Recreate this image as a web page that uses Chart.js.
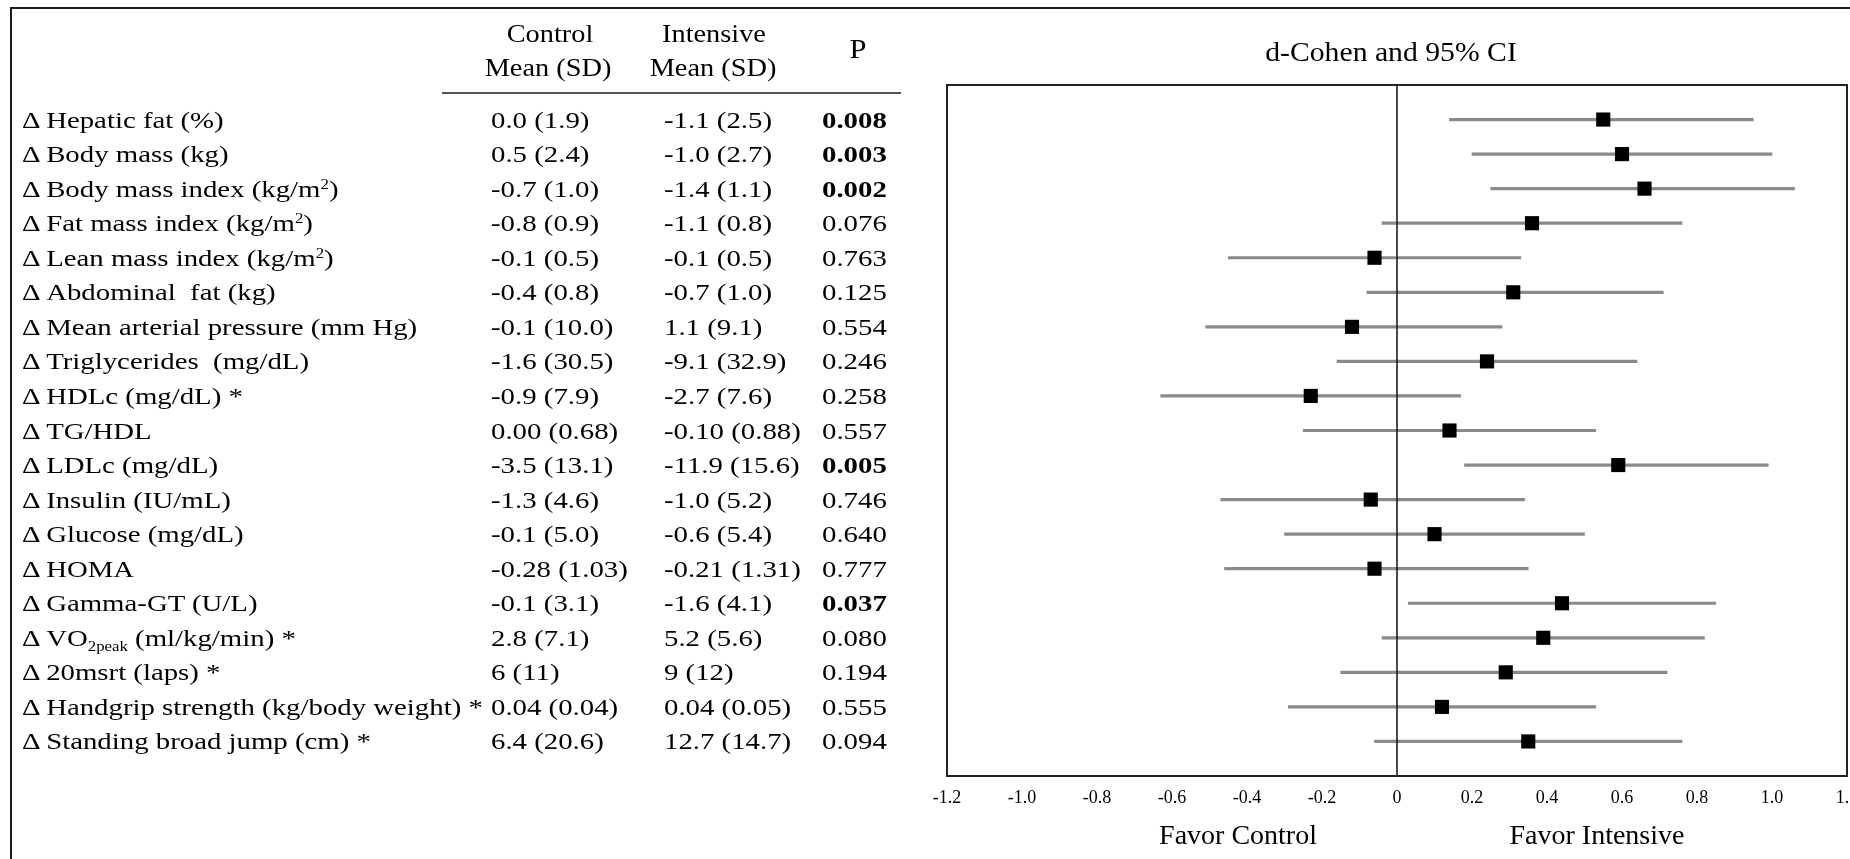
<!DOCTYPE html>
<html>
<head>
<meta charset="utf-8">
<script src="https://cdn.jsdelivr.net/npm/chart.js@4.4.1/dist/chart.umd.min.js"></script>
<style>
  html, body { margin: 0; padding: 0; background: #fff; overflow: hidden; }
  body { width: 1850px; height: 859px; position: relative; font-family: 'Liberation Serif', 'Times New Roman', serif; color: #000; }
  #frame { position: absolute; left: 10px; top: 7px; width: 1900px; height: 900px; border-left: 2.5px solid #1a1a1a; border-top: 2.5px solid #1a1a1a; }
  #chart { position: absolute; left: 0; top: 0; }
  .t { position: absolute; white-space: nowrap; }
  .row { font-size: 24px; height: 34px; line-height: 34px; transform: scaleX(1.2); transform-origin: 0 50%; }
  .row sup { font-size: 14px; vertical-align: 8px; line-height: 0; }
  .row sub { font-size: 14px; vertical-align: -5px; line-height: 0; }
  .head { font-size: 26px; line-height: 26px; transform: translateX(-50%) scaleX(1.09); }
  .big { font-size: 28px; line-height: 28px; transform: translateX(-50%); }
  .title { font-size: 27px; line-height: 27px; transform: translateX(-50%) scaleX(1.1); }
  #rule { position: absolute; left: 442px; top: 92px; width: 459px; height: 2px; background: #555; }
</style>
</head>
<body>
<div id="frame"></div>
<canvas id="chart" width="1900" height="859"></canvas>
<div id="rule"></div>
<div class="t head" style="left:550px; top:21px;">Control</div>
<div class="t head" style="left:548px; top:55px;">Mean (SD)</div>
<div class="t head" style="left:714px; top:21px;">Intensive</div>
<div class="t head" style="left:713px; top:55px;">Mean (SD)</div>
<div class="t head" style="left:858px; top:35px; font-size:28px; line-height:28px;">P</div>
<div class="t title" style="left:1391px; top:39px;">d-Cohen and 95% CI</div>
<div class="t big" style="left:1238px; top:821px;">Favor Control</div>
<div class="t big" style="left:1597px; top:821px;">Favor Intensive</div>
<script>
// rows of the table / forest plot
const rowLabels = [
  'Δ Hepatic fat (%)',
  'Δ Body mass (kg)',
  'Δ Body mass index (kg/m<sup>2</sup>)',
  'Δ Fat mass index (kg/m<sup>2</sup>)',
  'Δ Lean mass index (kg/m<sup>2</sup>)',
  'Δ Abdominal&nbsp; fat (kg)',
  'Δ Mean arterial pressure (mm Hg)',
  'Δ Triglycerides&nbsp; (mg/dL)',
  'Δ HDLc (mg/dL) *',
  'Δ TG/HDL',
  'Δ LDLc (mg/dL)',
  'Δ Insulin (IU/mL)',
  'Δ Glucose (mg/dL)',
  'Δ HOMA',
  'Δ Gamma-GT (U/L)',
  'Δ VO<sub>2peak</sub> (ml/kg/min) *',
  'Δ 20msrt (laps) *',
  'Δ Handgrip strength (kg/body weight) *',
  'Δ Standing broad jump (cm) *'
];
const controlMeanSD = ['0.0 (1.9)', '0.5 (2.4)', '-0.7 (1.0)', '-0.8 (0.9)', '-0.1 (0.5)', '-0.4 (0.8)', '-0.1 (10.0)',
  '-1.6 (30.5)', '-0.9 (7.9)', '0.00 (0.68)', '-3.5 (13.1)', '-1.3 (4.6)', '-0.1 (5.0)', '-0.28 (1.03)', '-0.1 (3.1)',
  '2.8 (7.1)', '6 (11)', '0.04 (0.04)', '6.4 (20.6)'];
const intensiveMeanSD = ['-1.1 (2.5)', '-1.0 (2.7)', '-1.4 (1.1)', '-1.1 (0.8)', '-0.1 (0.5)', '-0.7 (1.0)', '1.1 (9.1)',
  '-9.1 (32.9)', '-2.7 (7.6)', '-0.10 (0.88)', '-11.9 (15.6)', '-1.0 (5.2)', '-0.6 (5.4)', '-0.21 (1.31)', '-1.6 (4.1)',
  '5.2 (5.6)', '9 (12)', '0.04 (0.05)', '12.7 (14.7)'];
const pValues = ['0.008', '0.003', '0.002', '0.076', '0.763', '0.125', '0.554', '0.246', '0.258', '0.557',
  '0.005', '0.746', '0.640', '0.777', '0.037', '0.080', '0.194', '0.555', '0.094'];

// Cohen's d and 95% CI
const cohenD  = [0.55, 0.60, 0.66, 0.36, -0.06, 0.31, -0.12, 0.24, -0.23, 0.14, 0.59, -0.07, 0.10, -0.06, 0.44, 0.39, 0.29, 0.12, 0.35];
const ciLower = [0.14, 0.20, 0.25, -0.04, -0.45, -0.08, -0.51, -0.16, -0.63, -0.25, 0.18, -0.47, -0.30, -0.46, 0.03, -0.04, -0.15, -0.29, -0.06];
const ciUpper = [0.95, 1.00, 1.06, 0.76, 0.33, 0.71, 0.28, 0.64, 0.17, 0.53, 0.99, 0.34, 0.50, 0.35, 0.85, 0.82, 0.72, 0.53, 0.76];

// x axis ticks
const xTickValues = [-1.2, -1.0, -0.8, -0.6, -0.4, -0.2, 0, 0.2, 0.4, 0.6, 0.8, 1.0, 1.2];
const xTickLabels = ['-1.2', '-1.0', '-0.8', '-0.6', '-0.4', '-0.2', '0', '0.2', '0.4', '0.6', '0.8', '1.0', '1.2'];

Chart.defaults.font.family = "'Liberation Serif', 'Times New Roman', serif";
Chart.defaults.color = '#000';

// frame around the plot area + the zero line
const boxPlugin = {
  id: 'box',
  afterDatasetsDraw(chart) {
    const { ctx, chartArea: a } = chart;
    const x0 = chart.scales.x.getPixelForValue(0);
    ctx.save();
    ctx.strokeStyle = '#111';
    ctx.lineWidth = 1.5;
    ctx.beginPath();
    ctx.moveTo(x0, a.top);
    ctx.lineTo(x0, a.bottom);
    ctx.stroke();
    ctx.strokeStyle = '#222';
    ctx.lineWidth = 2;
    ctx.strokeRect(a.left, a.top, a.right - a.left, a.bottom - a.top);
    ctx.restore();
  }
};

const chart = new Chart(document.getElementById('chart').getContext('2d'), {
  type: 'bar',
  data: {
    datasets: [
      {
        type: 'scatter',
        data: cohenD.map((d, i) => ({ x: d, y: i })),
        pointStyle: 'rect',
        pointRadius: 10,
        backgroundColor: '#000',
        borderColor: '#000',
        borderWidth: 0,
        order: 0
      },
      {
        type: 'bar',
        indexAxis: 'y',
        data: cohenD.map((d, i) => ({ x: [ciLower[i], ciUpper[i]], y: i })),
        backgroundColor: '#8a8a8a',
        borderWidth: 0,
        barThickness: 2.5,
        order: 1
      }
    ]
  },
  options: {
    responsive: false,
    animation: false,
    events: [],
    layout: { padding: { left: 947, right: 53, top: 85, bottom: 43 } },
    plugins: { legend: { display: false }, tooltip: { enabled: false } },
    scales: {
      x: {
        type: 'linear',
        min: -1.2,
        max: 1.2,
        offset: false,
        grid: { display: false, drawTicks: false, offset: false },
        border: { display: false },
        afterBuildTicks: s => { s.ticks = xTickValues.map(v => ({ value: v })); },
        afterFit: s => { s.height = 40; },
        ticks: {
          autoSkip: false,
          maxRotation: 0,
          padding: 11,
          font: { size: 18 },
          callback: (v, i) => xTickLabels[i]
        }
      },
      y: {
        type: 'linear',
        display: false,
        reverse: true,
        offset: false,
        min: -1,
        max: 19
      }
    }
  },
  plugins: [boxPlugin]
});

// table rows placed on the chart's own y scale
const yScale = chart.scales.y;
function addCell(html, left, yc, bold) {
  const el = document.createElement('div');
  el.className = 't row';
  el.style.left = left + 'px';
  el.style.top = (yc - 17) + 'px';
  if (bold) el.style.fontWeight = 'bold';
  el.innerHTML = html;
  document.body.appendChild(el);
}
rowLabels.forEach((label, i) => {
  const yc = yScale.getPixelForValue(i);
  addCell(label, 22, yc, false);
  addCell(controlMeanSD[i], 491, yc, false);
  addCell(intensiveMeanSD[i], 664, yc, false);
  addCell(pValues[i], 822, yc, parseFloat(pValues[i]) < 0.05);
});
</script>
</body>
</html>
